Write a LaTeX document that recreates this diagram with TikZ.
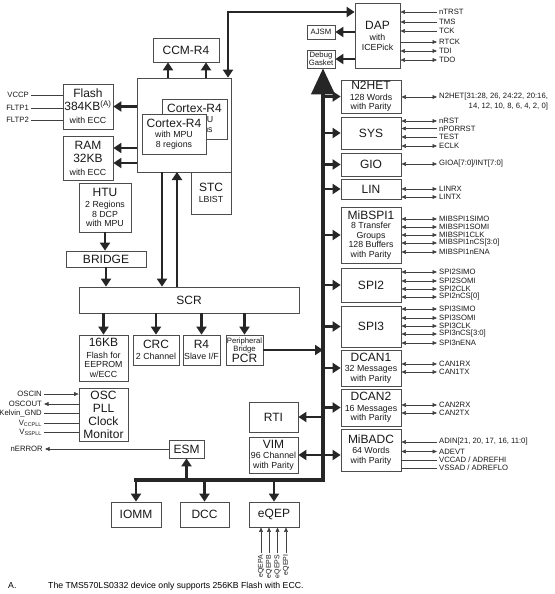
\documentclass[tikz,border=0pt]{standalone}
\usepackage{fontspec}
\setmainfont{Liberation Sans}
\usetikzlibrary{arrows.meta}
\newcommand{\fntbig}{\fontsize{12}{13}\selectfont}
\newcommand{\fntmid}{\fontsize{8.8}{9.5}\selectfont}
\newcommand{\fntsig}{\fontsize{7.7}{8}\selectfont}
\newcommand{\fntqep}{\fontsize{7}{7.5}\selectfont}
\newcommand{\fntfoot}{\fontsize{8.7}{9}\selectfont}
\tikzset{
  blk/.style={draw=black!70, fill=white, line width=0.7pt, inner sep=1pt, align=center, font=\fntmid, text=black!90},
  wh/.style 2 args={minimum width=#1pt, minimum height=#2pt},
  thk/.style={line width=2.7pt, black!85, >={Triangle[length=8pt,width=10pt]}, ->},
  thkboth/.style={thk, <->},
  bus/.style={line width=4pt, black!85, line cap=rect, -{Triangle[length=26pt,width=23pt]}},
  sig/.style={font=\fntsig, inner sep=2pt, text=black!90},
  sigr/.style={sig, anchor=west},
  sigl/.style={sig, anchor=east},
  sigv/.style={sig, font=\fntqep, inner sep=1.5pt, rotate=90, anchor=east},
  wire/.style={line width=0.6pt, black!75, >={Triangle[length=4.5pt,width=3.8pt]}},
}
\begin{document}
\begin{tikzpicture}[x=1pt,y=-1pt]
      \useasboundingbox (0,0) rectangle (554,594);
      % blocks
      \draw
        (186,50) node[blk,wh={66}{24},font=\fntbig] (ccm){CCM-R4}
        (184,125) node[blk,wh={94}{94}] (cpu){}
        (194.5,119) node[blk,wh={65}{40}] (cortexb){{\fntbig Cortex-R4}\\[1pt] with MPU\\ 8 regions}
        (174,134) node[blk,wh={64}{40}] (cortexa){{\fntbig Cortex-R4}\\[1pt] with MPU\\ 8 regions}
        (211,193) node[blk,wh={40}{42}] (stc){{\fntbig STC}\\[1.5pt] LBIST}
        (88,106.5) node[blk,wh={50}{45},font=\fntbig] (flash){Flash\\ 384KB\textsuperscript{(A)}\\ {\fntmid with ECC}}
        (88,158) node[blk,wh={50}{44},font=\fntbig] (ram){RAM\\ 32KB\\ {\fntmid with ECC}}
        (105,207.5) node[blk,wh={52}{49}] (htu){{\fntbig HTU}\\[1.5pt] 2 Regions\\ 8 DCP\\ with MPU}
        (106,259) node[blk,wh={80}{16},font=\fntbig] (bridge){BRIDGE}
        (189,300) node[blk,wh={220}{26},font=\fntbig] (scr){SCR}
        (103.5,358) node[blk,wh={49}{46}] (eeprom){{\fntbig 16KB}\\[2pt] Flash for\\ EEPROM\\ w/ECC}
        (156,350) node[blk,wh={46}{30}] (crc){{\fntbig CRC}\\[1pt] 2 Channel}
        (201.5,350) node[blk,wh={37}{30}] (rfour){{\fntbig R4}\\[1pt] Slave I/F}
        (244.5,350) node[blk,wh={37}{30},font=\fntsig] (pcr){Peripheral\\ Bridge\\ {\fntbig PCR}}
        (103.5,414.5) node[blk,wh={49}{53},font=\fntbig] (osc){OSC\\ PLL\\ Clock\\ Monitor}
        (186.5,449) node[blk,wh={35}{18},font=\fntbig] (esm){ESM}
        (273.5,417) node[blk,wh={49}{30},font=\fntbig] (rti){RTI}
        (273.5,455) node[blk,wh={49}{36}] (vim){{\fntbig VIM}\\[1pt] 96 Channel\\ with Parity}
        (136,514.5) node[blk,wh={50}{25},font=\fntbig] (iomm){IOMM}
        (204.5,514.5) node[blk,wh={49}{25},font=\fntbig] (dcc){DCC}
        (274,514.5) node[blk,wh={50}{25},font=\fntbig] (eqep){eQEP}
        (377.5,35.5) node[blk,wh={45}{65}] (dap){{\fntbig DAP}\\[2pt] with\\ ICEPick}
        (321,32) node[blk,wh={28}{14},font=\fntsig] (ajsm){AJSM}
        (321,59) node[blk,wh={28}{18},font=\fntsig] (debug){Debug\\ Gasket}
        (371,96.5) node[blk,wh={60}{33}] (n2het){{\fntbig N2HET}\\[1pt] 128 Words\\ with Parity}
        (371,133) node[blk,wh={60}{32},font=\fntbig] (sys){SYS}
        (371,164.5) node[blk,wh={60}{23},font=\fntbig] (gio){GIO}
        (371,189) node[blk,wh={60}{20},font=\fntbig] (lin){LIN}
        (371,235) node[blk,wh={60}{56}] (mibspi){{\fntbig MiBSPI1}\\ 8 Transfer\\ Groups\\ 128 Buffers\\ with Parity}
        (371,285) node[blk,wh={60}{34},font=\fntbig] (spitwo){SPI2}
        (371,326.5) node[blk,wh={60}{41},font=\fntbig] (spithree){SPI3}
        (371,368) node[blk,wh={60}{36}] (dcanone){{\fntbig DCAN1}\\[1pt] 32 Messages\\ with Parity}
        (371,407.5) node[blk,wh={60}{37}] (dcantwo){{\fntbig DCAN2}\\[1pt] 16 Messages\\ with Parity}
        (371,450) node[blk,wh={60}{42}] (mibadc){{\fntbig MiBADC}\\[1pt] 64 Words\\ with Parity};
      % signal names
      \draw
        (437,12) node[sigr] (ntrst){nTRST}
        (437,22) node[sigr] (tms){TMS}
        (437,31) node[sigr] (tck){TCK}
        (437,42) node[sigr] (rtck){RTCK}
        (437,51) node[sigr] (tdi){TDI}
        (437,60) node[sigr] (tdo){TDO}
        (437,97) node[sigr] (hetpins){N2HET[31:28, 26, 24:22, 20:16,}
        (437,121) node[sigr] (nrst){nRST}
        (437,128.5) node[sigr] (nporrst){nPORRST}
        (437,137) node[sigr] (test){TEST}
        (437,146) node[sigr] (eclk){ECLK}
        (437,164) node[sigr] (giopins){GIOA[7:0]/INT[7:0]}
        (437,189) node[sigr] (linrx){LINRX}
        (437,197) node[sigr] (lintx){LINTX}
        (437,219) node[sigr] (sonesimo){MIBSPI1SIMO}
        (437,227) node[sigr] (sonesomi){MIBSPI1SOMI}
        (437,235) node[sigr] (soneclk){MIBSPI1CLK}
        (437,243) node[sigr] (sonencs){MIBSPI1nCS[3:0]}
        (437,252) node[sigr] (sonenena){MIBSPI1nENA}
        (437,272) node[sigr] (stwosimo){SPI2SIMO}
        (437,281) node[sigr] (stwosomi){SPI2SOMI}
        (437,289) node[sigr] (stwoclk){SPI2CLK}
        (437,297) node[sigr] (stwoncs){SPI2nCS[0]}
        (437,309) node[sigr] (sthreesimo){SPI3SIMO}
        (437,318) node[sigr] (sthreesomi){SPI3SOMI}
        (437,326) node[sigr] (sthreeclk){SPI3CLK}
        (437,334) node[sigr] (sthreencs){SPI3nCS[3:0]}
        (437,343) node[sigr] (sthreenena){SPI3nENA}
        (437,364) node[sigr] (canonerx){CAN1RX}
        (437,372) node[sigr] (canonetx){CAN1TX}
        (437,405) node[sigr] (cantworx){CAN2RX}
        (437,413) node[sigr] (cantwotx){CAN2TX}
        (437,442) node[sigr] (adin){ADIN[21, 20, 17, 16, 11:0]}
        (437,451.5) node[sigr] (adevt){ADEVT}
        (437,460) node[sigr] (vccad){VCCAD / ADREFHI}
        (437,468) node[sigr] (vssad){VSSAD / ADREFLO}
        (31,95) node[sigl] (vccp){VCCP}
        (31,108) node[sigl] (fltpone){FLTP1}
        (31,120) node[sigl] (fltptwo){FLTP2}
        (44,394) node[sigl] (oscin){OSCIN}
        (44,404) node[sigl] (oscout){OSCOUT}
        (44,413) node[sigl] (kgnd){Kelvin\_GND}
        (44,423) node[sigl] (vccpll){V\textsubscript{CCPLL}}
        (44,432) node[sigl] (vsspll){V\textsubscript{SSPLL}}
        (45,449) node[sigl] (nerror){nERROR}
        (261,553) node[sigv] (qepa){eQEPA}
        (269,553) node[sigv] (qepb){eQEPB}
        (277.5,553) node[sigv] (qeps){eQEPS}
        (286,553) node[sigv] (qepi){eQEPI};
      \node[sig,anchor=north east,inner sep=0pt] (hetpinsb) at ([xshift=-2pt]hetpins.south east) {14, 12, 10, 8, 6, 4, 2, 0]};
      \node[font=\fntfoot,anchor=base west,inner sep=0pt] (fnmark) at (8,588) {A.};
      \node[font=\fntfoot,anchor=base west,inner sep=0pt] (fntext) at (48,588) {The TMS570LS0332 device only supports 256KB Flash with ECC.};
      \coordinate (jtag) at (228,12);
      \coordinate (ccmin1) at (168,78);
      \coordinate (ccmin2) at (206,78);
      \coordinate (ramout1) at (137,148);
      \coordinate (ramout2) at (137,163);
      \coordinate (cpudown) at (162,172);
      \coordinate (cpuup) at (177,172);
      \coordinate (busc) at (323,480);
      \coordinate (busl) at (136,480);
      \begin{scope}[thk]
        \draw[bus] (busl) -- (busc) -- (busc |- debug.south);
        \draw[thkboth] (cpu.north -| jtag) |- (dap.west |- jtag);
        \draw (dap.west |- ajsm.east) to (ajsm.east);
        \draw (dap.west |- debug.east) to (debug.east);
        \draw (ccmin1) to (ccmin1 |- ccm.south);
        \draw (ccmin2) to (ccmin2 |- ccm.south);
        \draw (cpu.west |- flash.east) to (flash.east);
        \draw (ramout1) to (ramout1 -| ram.east);
        \draw (ramout2) to (ramout2 -| ram.east);
        \draw (cpudown) to (cpudown |- scr.north);
        \draw (cpuup |- scr.north) to (cpuup);
        \draw (htu.south) to (htu.south |- bridge.north);
        \draw (bridge.south) to (bridge.south |- scr.north);
        \draw (scr.south -| eeprom.north) to (eeprom.north);
        \draw (scr.south -| crc.north) to (crc.north);
        \draw (scr.south -| rfour.north) to (rfour.north);
        \draw (scr.south -| pcr.north) to (pcr.north);
        \draw (pcr.east) to (pcr.east -| busc);
        \draw (busc |- n2het.west) to (n2het.west);
        \draw (busc |- sys.west) to (sys.west);
        \draw (busc |- gio.west) to (gio.west);
        \draw (busc |- lin.west) to (lin.west);
        \draw (busc |- mibspi.west) to (mibspi.west);
        \draw (busc |- spitwo.west) to (spitwo.west);
        \draw (busc |- spithree.west) to (spithree.west);
        \draw (busc |- dcanone.west) to (dcanone.west);
        \draw (busc |- dcantwo.west) to (dcantwo.west);
        \draw[thkboth] (vim.east) to (vim.east -| mibadc.west);
        \draw (rti.east -| busc) to (rti.east);
        \draw (esm.south |- busc) to (esm.south);
        \draw (busl) to (busl |- iomm.north);
        \draw (dcc.north |- busc) to (dcc.north);
        \draw (eqep.north |- busc) to (eqep.north);
      \end{scope}
      \begin{scope}[wire,<->]
        \draw[<-] (dap.east |- ntrst) to (ntrst.west);
        \draw[<-] (dap.east |- tms) to (tms.west);
        \draw[<-] (dap.east |- tck) to (tck.west);
        \draw[->] (dap.east |- rtck) to (rtck.west);
        \draw (dap.east |- tdi) to (tdi.west);
        \draw (dap.east |- tdo) to (tdo.west);
        \draw (n2het.east |- hetpins) to (hetpins.west);
        \draw (sys.east |- nrst) to (nrst.west);
        \draw[<-] (sys.east |- nporrst) to (nporrst.west);
        \draw[<-] (sys.east |- test) to (test.west);
        \draw (sys.east |- eclk) to (eclk.west);
        \draw (gio.east |- giopins) to (giopins.west);
        \draw (lin.east |- linrx) to (linrx.west);
        \draw (lin.east |- lintx) to (lintx.west);
        \draw (mibspi.east |- sonesimo) to (sonesimo.west);
        \draw (mibspi.east |- sonesomi) to (sonesomi.west);
        \draw (mibspi.east |- soneclk) to (soneclk.west);
        \draw (mibspi.east |- sonencs) to (sonencs.west);
        \draw (mibspi.east |- sonenena) to (sonenena.west);
        \draw (spitwo.east |- stwosimo) to (stwosimo.west);
        \draw (spitwo.east |- stwosomi) to (stwosomi.west);
        \draw (spitwo.east |- stwoclk) to (stwoclk.west);
        \draw (spitwo.east |- stwoncs) to (stwoncs.west);
        \draw (spithree.east |- sthreesimo) to (sthreesimo.west);
        \draw (spithree.east |- sthreesomi) to (sthreesomi.west);
        \draw (spithree.east |- sthreeclk) to (sthreeclk.west);
        \draw (spithree.east |- sthreencs) to (sthreencs.west);
        \draw (spithree.east |- sthreenena) to (sthreenena.west);
        \draw (dcanone.east |- canonerx) to (canonerx.west);
        \draw (dcanone.east |- canonetx) to (canonetx.west);
        \draw (dcantwo.east |- cantworx) to (cantworx.west);
        \draw (dcantwo.east |- cantwotx) to (cantwotx.west);
        \draw[<-] (mibadc.east |- adin) to (adin.west);
        \draw (mibadc.east |- adevt) to (adevt.west);
        \draw[-] (mibadc.east |- vccad) to (vccad.west);
        \draw[-] (mibadc.east |- vssad) to (vssad.west);
        \draw[-] (vccp.east) to (vccp.east -| flash.west);
        \draw[-] (fltpone.east) to (fltpone.east -| flash.west);
        \draw[-] (fltptwo.east) to (fltptwo.east -| flash.west);
        \draw[->] (oscin.east) to (oscin.east -| osc.west);
        \draw[<-] (oscout.east) to (oscout.east -| osc.west);
        \draw[-] (kgnd.east) to (kgnd.east -| osc.west);
        \draw[-] (vccpll.east) to (vccpll.east -| osc.west);
        \draw[-] (vsspll.east) to (vsspll.east -| osc.west);
        \draw[<-] (nerror.east) to (nerror.east -| esm.west);
        \draw[->] (qepa.east) to (qepa.east |- eqep.south);
        \draw[->] (qepb.east) to (qepb.east |- eqep.south);
        \draw[->] (qeps.east) to (qeps.east |- eqep.south);
        \draw[->] (qepi.east) to (qepi.east |- eqep.south);
      \end{scope}
    \end{tikzpicture}
\end{document}
